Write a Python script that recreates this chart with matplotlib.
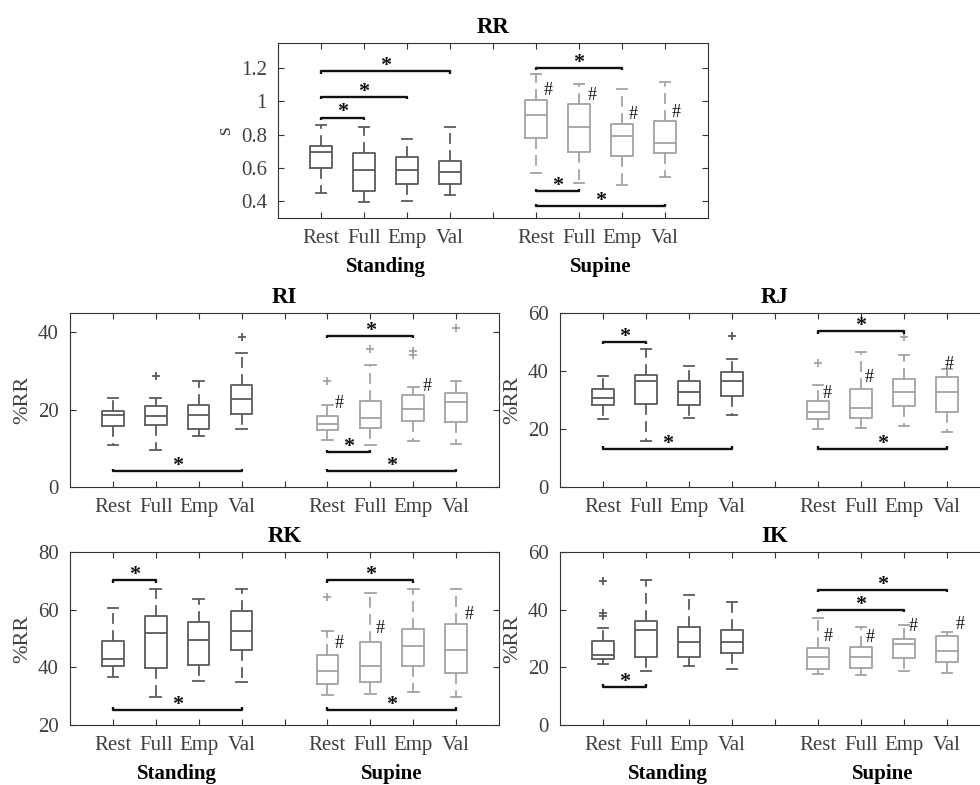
import matplotlib.pyplot as plt
import numpy as np

plt.rcParams['font.family'] = ['Liberation Serif', 'DejaVu Serif']

conds = ['Rest', 'Full', 'Emp', 'Val']
groups = ['Standing', 'Supine']
pos = [1, 2, 3, 4, 6, 7, 8, 9]

# RR (s) - standing x4, supine x4
rr_hi = [0.861, 0.849, 0.777, 0.849, 1.166, 1.102, 1.076, 1.114]
rr_q3 = [0.735, 0.693, 0.669, 0.645, 1.008, 0.983, 0.863, 0.885]
rr_med = [0.695, 0.590, 0.590, 0.578, 0.921, 0.849, 0.791, 0.753]
rr_q1 = [0.603, 0.464, 0.502, 0.502, 0.779, 0.695, 0.671, 0.689]
rr_lo = [0.452, 0.398, 0.404, 0.440, 0.570, 0.512, 0.500, 0.548]
rr_out = [[], [], [], [], [], [], [], []]
rr_sig = [(1, 2, 0.903), (1, 3, 1.028), (1, 4, 1.18), (6, 8, 1.202), (6, 7, 0.46), (6, 9, 0.37)]
rr_hash = [(6.29, 1.066), (7.30, 1.034), (8.27, 0.923), (9.27, 0.935)]

# RI (%RR)
ri_hi = [23.1, 23.1, 27.4, 34.7, 21.1, 31.6, 25.9, 27.5]
ri_q3 = [19.7, 21.0, 21.2, 26.3, 18.3, 22.2, 23.9, 24.4]
ri_med = [18.75, 18.3, 18.5, 22.7, 16.4, 17.8, 20.3, 22.0]
ri_q1 = [15.8, 16.0, 15.1, 19.0, 14.8, 15.2, 17.1, 16.9]
ri_lo = [10.75, 9.6, 13.1, 14.9, 12.2, 10.75, 12.0, 11.0]
ri_out = [[], [28.6], [], [38.8], [27.5], [35.7], [35.3, 34.2], [41.1]]
ri_sig = [(1, 4, 4.1), (6, 8, 39.1), (6, 7, 9.0), (6, 9, 4.1)]
ri_hash = [(6.28, 21.5), (8.33, 26.1)]

# RJ (%RR)
rj_hi = [38.3, 47.7, 41.6, 44.2, 35.3, 46.7, 45.5, 40.7]
rj_q3 = [33.7, 38.6, 36.4, 39.8, 29.7, 33.7, 37.3, 37.8]
rj_med = [30.6, 36.4, 32.9, 36.4, 26.0, 27.2, 32.9, 32.6]
rj_q1 = [28.3, 28.6, 28.2, 31.4, 23.5, 23.9, 28.0, 26.0]
rj_lo = [23.6, 15.9, 23.9, 24.7, 20.1, 20.5, 20.9, 19.0]
rj_out = [[], [], [], [52.1], [42.9], [], [51.6], []]
rj_sig = [(1, 2, 50.1), (1, 4, 13.2), (6, 8, 53.8), (6, 9, 13.2)]
rj_hash = [(6.22, 32.3), (7.18, 37.7), (9.05, 42.3)]

# RK (%RR)
rk_hi = [60.7, 67.2, 63.6, 67.1, 52.7, 65.9, 67.1, 67.1]
rk_q3 = [49.1, 57.9, 55.6, 59.4, 44.2, 48.9, 53.3, 55.0]
rk_med = [42.8, 51.8, 49.4, 52.5, 38.6, 40.5, 47.3, 45.9]
rk_q1 = [40.3, 39.9, 40.7, 45.9, 34.3, 34.9, 40.3, 38.2]
rk_lo = [36.8, 29.8, 35.4, 34.8, 30.3, 30.9, 31.3, 29.6]
rk_out = [[], [], [], [], [64.5], [], [], []]
rk_sig = [(1, 2, 70.2), (1, 4, 25.3), (6, 8, 70.2), (6, 9, 25.3)]
rk_hash = [(6.27, 48.4), (7.24, 53.3), (9.30, 58.3)]

# IK (%RR)
ik_hi = [33.6, 50.2, 45.2, 42.8, 37.0, 33.9, 34.7, 32.4]
ik_q3 = [29.1, 36.1, 34.1, 32.9, 26.7, 27.2, 29.8, 30.8]
ik_med = [24.3, 32.8, 28.7, 28.7, 23.6, 23.6, 28.1, 25.5]
ik_q1 = [23.0, 23.7, 23.6, 24.9, 19.3, 19.8, 23.1, 22.0]
ik_lo = [21.3, 18.8, 20.3, 19.5, 17.6, 17.2, 18.8, 18.2]
ik_out = [[50.1, 38.7, 37.9], [], [], [], [], [], [], []]
ik_sig = [(1, 2, 13.2), (6, 8, 40.0), (6, 9, 46.9)]
ik_hash = [(6.24, 30.8), (7.22, 30.4), (8.22, 34.1), (9.30, 34.7)]

c_stand = '#5a5a5a'
c_sup = '#a3a3a3'
axcol = '#333333'
W, H = 980, 785


def panel(rect, title, ylabel, ylim, yticks, ytl, hi, q3, med, q1, lo, out, sig, hashes, grp_lab):
    l, t, w, h = rect
    ax = fig.add_axes([l / W, 1 - (t + h) / H, w / W, h / H])
    for k in range(8):
        col = c_stand if k < 4 else c_sup
        st = [dict(med=med[k], q1=q1[k], q3=q3[k], whislo=lo[k], whishi=hi[k], fliers=out[k])]
        ax.bxp(st, positions=[pos[k]], widths=0.5, showfliers=True,
               boxprops=dict(color=col, lw=1.3),
               medianprops=dict(color=col, lw=1.3),
               whiskerprops=dict(color=col, lw=1.3, linestyle=(0, (6, 3.5))),
               capprops=dict(color=col, lw=1.3),
               flierprops=dict(marker='+', markeredgecolor=col, markersize=6, markeredgewidth=1.3))
    # brackets de significancia, tips apuntan hacia los datos
    tip = (ylim[1] - ylim[0]) * 0.015
    for a, b, y in sig:
        idx = [i for i, p in enumerate(pos) if a <= p <= b]
        below = y < min(lo[i] for i in idx)
        d = tip if below else -tip
        ax.plot([a, a, b, b], [y + d, y, y, y + d], color='#111111', lw=1.7, solid_capstyle='butt')
        ax.annotate('*', xy=((a + b) / 2, y), xytext=(0, -3.5), textcoords='offset points',
                    ha='center', va='bottom', fontsize=16, fontweight='bold', color='#111111')
    for x, y in hashes:
        ax.text(x, y, '#', ha='center', va='center', fontsize=13, color='#111111')

    ax.set_xlim(0, 10)
    ax.set_ylim(*ylim)
    ax.set_xticks(range(1, 10))
    ax.set_xticklabels(conds + [''] + conds)
    ax.set_yticks(yticks)
    ax.set_yticklabels(ytl)
    ax.tick_params(direction='in', top=True, right=True, length=4, width=0.8,
                   colors=axcol, labelsize=15, labelcolor='#404040', pad=8)
    for s in ax.spines.values():
        s.set_color(axcol)
        s.set_linewidth(0.8)
    ax.set_ylabel(ylabel, fontsize=16, color='#404040')
    ax.set_title(title, fontsize=16.5, fontweight='bold', pad=7)
    if grp_lab:
        for gx, g in zip([2.5, 7.5], groups):
            ax.annotate(g, xy=(gx, 0), xycoords=('data', 'axes fraction'),
                        xytext=(0, -35), textcoords='offset points',
                        ha='center', va='center', fontsize=15, fontweight='bold')
    return ax


fig = plt.figure(figsize=(W / 100, H / 100), dpi=100)

panel((278, 43, 430, 175), 'RR', 's', (0.3, 1.35), [0.4, 0.6, 0.8, 1, 1.2],
      ['0.4', '0.6', '0.8', '1', '1.2'],
      rr_hi, rr_q3, rr_med, rr_q1, rr_lo, rr_out, rr_sig, rr_hash, True)
panel((70, 313, 429, 174), 'RI', '%RR', (0, 45), [0, 20, 40], ['0', '20', '40'],
      ri_hi, ri_q3, ri_med, ri_q1, ri_lo, ri_out, ri_sig, ri_hash, False)
panel((560, 313, 430, 174), 'RJ', '%RR', (0, 60), [0, 20, 40, 60], ['0', '20', '40', '60'],
      rj_hi, rj_q3, rj_med, rj_q1, rj_lo, rj_out, rj_sig, rj_hash, False)
panel((70, 552, 429, 173), 'RK', '%RR', (20, 80), [20, 40, 60, 80], ['20', '40', '60', '80'],
      rk_hi, rk_q3, rk_med, rk_q1, rk_lo, rk_out, rk_sig, rk_hash, True)
panel((560, 552, 430, 173), 'IK', '%RR', (0, 60), [0, 20, 40, 60], ['0', '20', '40', '60'],
      ik_hi, ik_q3, ik_med, ik_q1, ik_lo, ik_out, ik_sig, ik_hash, True)

fig.savefig('out.png', dpi=100)
